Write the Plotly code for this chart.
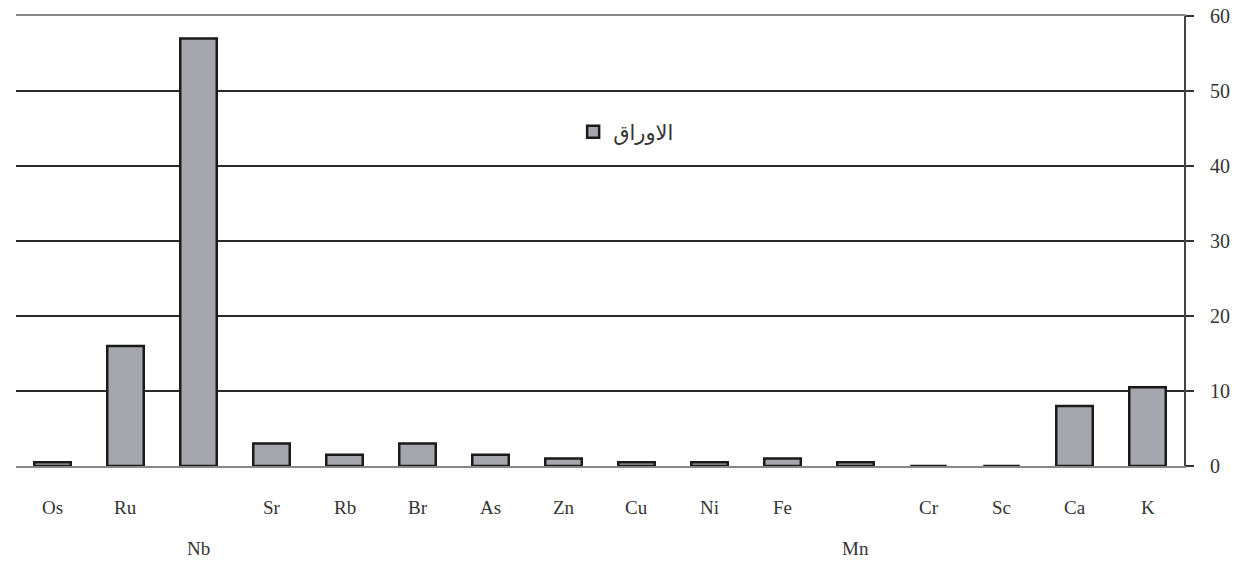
import plotly.graph_objects as go

categories = ["Os", "Ru", "Nb", "Sr", "Rb", "Br", "As", "Zn", "Cu", "Ni", "Fe", "Mn", "Cr", "Sc", "Ca", "K"]
values = [0.5, 16, 57, 3, 1.5, 3, 1.5, 1, 0.5, 0.5, 1, 0.5, 0, 0, 8, 10.5]
label_row = [0, 0, 1, 0, 0, 0, 0, 0, 0, 0, 0, 1, 0, 0, 0, 0]
series_name = "الاوراق"
y_ticks = [0, 10, 20, 30, 40, 50, 60]

fig = go.Figure()
fig.add_trace(go.Bar(
    x=categories, y=values, name=series_name,
    marker=dict(color="#a6a6ae", line=dict(color="#1a1a1a", width=2.5)),
    showlegend=True,
))

annotations = []
for cat, row in zip(categories, label_row):
    annotations.append(dict(
        x=cat, xref="x", y=-0.093 - 0.09 * row, yref="paper",
        text=cat, showarrow=False, xanchor="center", yanchor="middle",
        font=dict(family="Liberation Serif", size=19, color="#333333"),
    ))

fig.update_layout(
    width=1244, height=566,
    margin=dict(l=16, r=60, t=16, b=100, autoexpand=False),
    paper_bgcolor="white", plot_bgcolor="white",
    bargap=0.5,
    showlegend=True,
    legend=dict(
        x=0.477, y=0.742, xanchor="left", yanchor="middle",
        bgcolor="rgba(0,0,0,0)",
        font=dict(family="DejaVu Sans", size=21, color="#333333"),
    ),
    xaxis=dict(
        type="category", showticklabels=False, ticks="",
        showline=True, linecolor="#888888", linewidth=2, mirror=True,
        showgrid=False, range=[-0.5, len(categories) - 0.5],
        automargin=False,
    ),
    yaxis=dict(
        side="right", range=[0, 60], tickvals=y_ticks,
        ticks="outside", ticklen=8, tickcolor="#333333", tickwidth=1.5,
        ticklabelstandoff=12,
        showline=True, linecolor="#444444", linewidth=2,
        showgrid=True, gridcolor="#2a2a2a", gridwidth=2,
        zeroline=False, automargin=False,
        tickfont=dict(family="Liberation Serif", size=20, color="#333333"),
    ),
    annotations=annotations,
)

fig.write_html(
    "out.html",
    config={"displayModeBar": False},
    post_script="document.body.style.margin='0';document.body.style.overflow='hidden';",
)
